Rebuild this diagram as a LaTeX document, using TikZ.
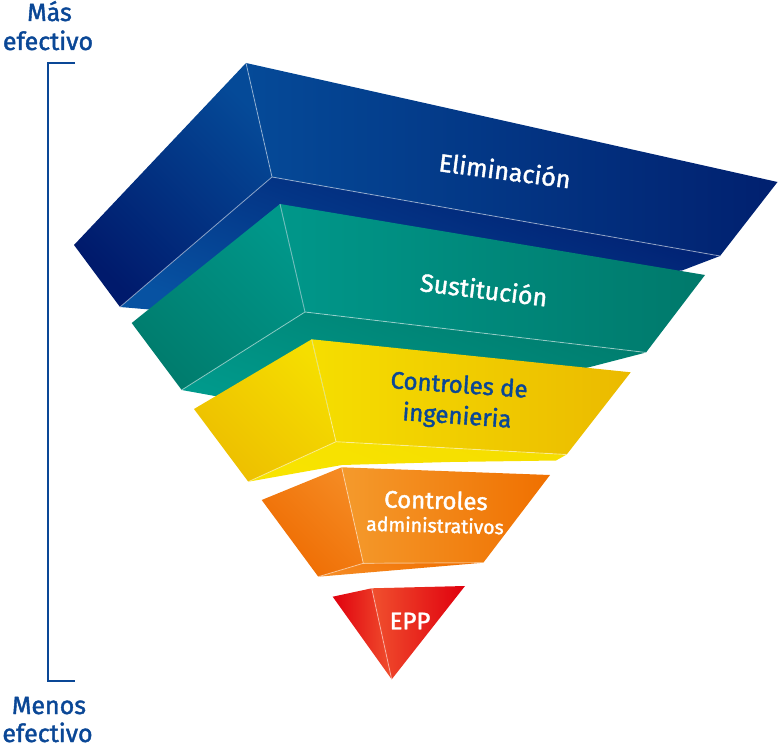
\documentclass[tikz,border=0pt]{standalone}
\usepackage{fontspec}
\setmainfont{Fira Sans}[FakeBold=1.6]
\definecolor{inkblue}{HTML}{0A4796}
% blue block
\definecolor{bluA}{HTML}{054A98}
\definecolor{bluB}{HTML}{01206F}
\definecolor{bluC}{HTML}{001A6C}
\definecolor{bluD}{HTML}{0752A2}
% teal block
\definecolor{telA}{HTML}{00978A}
\definecolor{telB}{HTML}{00796B}
\definecolor{telC}{HTML}{007C6D}
\definecolor{telD}{HTML}{009A8C}
% yellow block
\definecolor{yelA}{HTML}{F5DE00}
\definecolor{yelB}{HTML}{EBBA00}
\definecolor{yelC}{HTML}{EDBE00}
\definecolor{yelD}{HTML}{F8E400}
% orange block
\definecolor{orA}{HTML}{F49A2C}
\definecolor{orB}{HTML}{F07000}
\definecolor{orC}{HTML}{EE6A00}
\definecolor{orD}{HTML}{F58A22}
% red block
\definecolor{redA}{HTML}{F0502E}
\definecolor{redB}{HTML}{E0000E}
\begin{document}
\begin{tikzpicture}[x=1pt,y=-1pt,
  ridge/.style={draw=white,draw opacity=0.45,line width=0.9pt},
  lab/.style={font=\fontsize{24}{31}\selectfont,inner sep=0pt},
  big/.style={font=\fontsize{25}{30}\selectfont,inner sep=0pt},
  side/.style={font=\fontsize{25}{28}\selectfont,text=inkblue,inner sep=0pt,anchor=base},
  bracket/.style={draw=inkblue,line width=2.7pt,line join=miter}]
\useasboundingbox (0,0) rectangle (778,751);

% ---------- Eliminación (blue) ----------
\coordinate (bTB) at (246,63);
\coordinate (bOL) at (74,245);
\coordinate (bBL) at (120,307);
\coordinate (bIC) at (272,177);
\coordinate (bRO) at (777.5,182);
\coordinate (bFR) at (720,256);
\coordinate (bBR) at (682,270.5);
\coordinate (bHD) at (250,318);
\shade[top color=bluC,bottom color=bluD,shading angle=-20] (bIC) -- (bFR) -- (bBR) -- (bHD) -- (bBL) -- cycle;
\shade[top color=bluA,bottom color=bluC,shading angle=-45] (bTB) -- (bOL) -- (bBL) -- (bIC) -- cycle;
\shade[left color=bluA,right color=bluB] (bTB) -- (bRO) -- (bFR) -- (bIC) -- cycle;
\path[ridge] (bTB) -- (bIC) -- (bFR) (bIC) -- (bBL);

% ---------- Sustitución (teal) ----------
\coordinate (tTB) at (280,204);
\coordinate (tOL) at (131.7,323);
\coordinate (tBL) at (181.7,390);
\coordinate (tIC) at (305,312);
\coordinate (tRO) at (705,275);
\coordinate (tFR) at (646,352.5);
\coordinate (tBR) at (588,367.5);
\coordinate (tHD) at (320,415);
\shade[top color=telC,bottom color=telD,shading angle=-20] (tIC) -- (tFR) -- (tBR) -- (tHD) -- (tBL) -- cycle;
\shade[top color=telA,bottom color=telC,shading angle=-45] (tTB) -- (tOL) -- (tBL) -- (tIC) -- cycle;
\shade[left color=telA,right color=telB] (tTB) -- (tRO) -- (tFR) -- (tIC) -- cycle;
\path[ridge] (tTB) -- (tIC) -- (tFR) (tIC) -- (tBL);

% ---------- Controles de ingenieria (yellow) ----------
\coordinate (yTB) at (311.7,339.3);
\coordinate (yOL) at (194,409);
\coordinate (yBL) at (248.3,481.7);
\coordinate (yIC) at (336,441.7);
\coordinate (yRO) at (630.7,372.3);
\coordinate (yFR) at (566.7,454.5);
\coordinate (yBR) at (556,460.5);
\coordinate (yM1) at (450,462);
\coordinate (yM2) at (342,465);
\shade[top color=yelA,bottom color=yelD,shading angle=-20] (yIC) -- (yFR) -- (yBR) -- (yM1) -- (yM2) -- (yBL) -- cycle;
\shade[top color=yelA,bottom color=yelC,shading angle=-45] (yTB) -- (yOL) -- (yBL) -- (yIC) -- cycle;
\shade[left color=yelA,right color=yelB] (yTB) -- (yRO) -- (yFR) -- (yIC) -- cycle;
\path[ridge] (yTB) -- (yIC) -- (yFR) (yIC) -- (yBL);

% ---------- Controles administrativos (orange) ----------
\coordinate (oTB) at (341.7,467.3);
\coordinate (oOL) at (261.7,500);
\coordinate (oBL) at (318.3,576.7);
\coordinate (oIC) at (363.3,563.3);
\coordinate (oRO) at (550,475);
\coordinate (oFR) at (483.3,562.7);
\shade[top color=orB,bottom color=orD,shading angle=-20] (oIC) -- (oFR) -- (oBL) -- cycle;
\shade[top color=orD,bottom color=orC,shading angle=-45] (oTB) -- (oOL) -- (oBL) -- (oIC) -- cycle;
\shade[left color=orA,right color=orB] (oTB) -- (oRO) -- (oFR) -- (oIC) -- cycle;
\path[ridge] (oTB) -- (oIC) -- (oFR) (oIC) -- (oBL);

% ---------- EPP (red) ----------
\coordinate (rOL) at (332.7,596.7);
\coordinate (rTB) at (371.7,588.3);
\coordinate (rTP) at (391.7,679.3);
\coordinate (rRO) at (465,586);
\shade[left color=redB,right color=redA] (rOL) -- (rTB) -- (rTP) -- cycle;
\shade[left color=redA,right color=redB] (rTB) -- (rRO) -- (rTP) -- cycle;
\path[ridge] (rTB) -- (rTP);

% ---------- labels on the blocks ----------
\node[big,text=white,rotate=-7.5] (elim) at (505,170) {Eliminación};
\node[big,text=white,rotate=-7] (sust) at (484,289) {Sustitución};
\node[lab,text=inkblue,rotate=-4,align=center] (ing) at (458,402) {Controles de\\ingenieria};
\node[lab,text=white,rotate=-1.5] (adm1) at (436,500) {Controles};
\node[lab,text=white,rotate=-1.5,font=\fontsize{19.5}{22}\selectfont] (adm2) at (435,525) {administrativos};
\node[lab,text=white] (epp) at (410,621) {EPP};

% ---------- effectiveness scale ----------
\coordinate (kTop) at (75,63);
\coordinate (kTL) at (48,63);
\coordinate (kBL) at (48,681);
\coordinate (kBot) at (75,681);
\draw[bracket] (kTop) -- (kTL) -- (kBL) -- (kBot);
\node[side] (mas) at (49.5,21) {Más};
\node[side] (efe1) at (48,50) {efectivo};
\node[side] (menos) at (49,714) {Menos};
\node[side] (efe2) at (47.5,742) {efectivo};
\end{tikzpicture}
\end{document}
